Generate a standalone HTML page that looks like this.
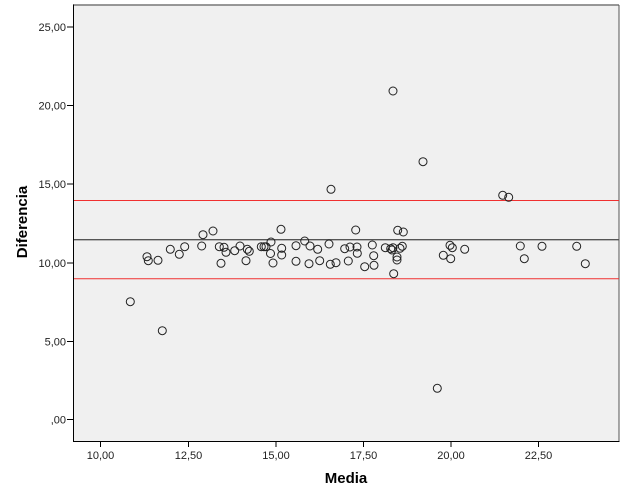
<!DOCTYPE html>
<html><head><meta charset="utf-8"><style>
html,body{margin:0;padding:0;background:#fff;}
svg{display:block;}
text{font-family:"Liberation Sans",Arial,sans-serif;}
</style></head><body>
<svg width="626" height="501" viewBox="0 0 626 501" xmlns="http://www.w3.org/2000/svg">
<defs>
<marker id="m" markerUnits="userSpaceOnUse" markerWidth="10" markerHeight="10" refX="5" refY="5" overflow="visible">
<circle cx="5" cy="5" r="4" fill="none" stroke="#222" stroke-width="1"/>
</marker>
</defs>
<rect x="0" y="0" width="626" height="501" fill="#fff"/>
<rect x="73.5" y="5" width="545.5" height="436" fill="#f0f0f0"/>
<line x1="73" y1="5" x2="619" y2="5" stroke="#777" stroke-width="1.5"/>
<line x1="619" y1="5" x2="619" y2="441" stroke="#555" stroke-width="1"/>
<path d="M73.5 4.5V441.5H619.5" fill="none" stroke="#000" stroke-width="1"/>
<path d="M67 27H73M67 105.5H73M67 184H73M67 263H73M67 341.5H73M67 419.5H73" stroke="#000" stroke-width="1"/>
<path d="M100.5 441V447M188.5 441V447M276 441V447M363.5 441V447M451 441V447M538.5 441V447" stroke="#000" stroke-width="1"/>
<g font-size="11" fill="#222" text-anchor="end">
<text x="66" y="31">25,00</text>
<text x="66" y="109.5">20,00</text>
<text x="66" y="188">15,00</text>
<text x="66" y="267">10,00</text>
<text x="66" y="345.5">5,00</text>
<text x="66" y="423.5">,00</text>
</g>
<g font-size="11" fill="#222" text-anchor="middle">
<text x="100.5" y="459">10,00</text>
<text x="188.5" y="459">12,50</text>
<text x="276" y="459">15,00</text>
<text x="363.5" y="459">17,50</text>
<text x="451" y="459">20,00</text>
<text x="538.5" y="459">22,50</text>
</g>
<text x="346" y="483" font-size="15" font-weight="bold" text-anchor="middle" fill="#000">Media</text>
<text transform="translate(27,222) rotate(-90)" font-size="15" font-weight="bold" text-anchor="middle" fill="#000">Diferencia</text>
<line x1="74" y1="200.5" x2="619" y2="200.5" stroke="#f03030" stroke-width="1"/>
<line x1="74" y1="278.7" x2="619" y2="278.7" stroke="#f03030" stroke-width="1"/>
<line x1="74" y1="239.7" x2="619" y2="239.7" stroke="#555" stroke-width="1.3"/>
<polyline fill="none" stroke="none" marker-start="url(#m)" marker-mid="url(#m)" marker-end="url(#m)" points="130.3,301.7 162.3,330.7 147,256.7 148.3,260.7 158,260.3 170.3,249.3 179.3,254.3 184.7,246.7 201.7,246 203,234.7 213,231 219.3,246.7 221,263.3 224,247.3 226,252.3 234.7,250.7 240,246 246,260.7 247.3,249.3 249.3,251.3 261.3,246.7 264,246.7 266,246.7 271,242 270.5,253.5 273,263 281,229.3 281.7,248.3 281.7,255 296,245.7 296,261.3 304.7,241 310,246 309,263.7 317.7,249.3 319.7,260.7 329,244 330.3,264.3 336,262.7 331,189.3 344.7,248.7 350,247 348.3,261 355.7,230 357,247 357.3,253.3 364.7,266.7 372.3,245 373.7,255.7 374,265.3 385.3,247.7 390.7,248.7 392,250 393,247.7 397,257 397,260 393.7,273.7 397.7,230.3 403.3,232 400,248.3 402.3,246.3 393,91 423,161.7 437.3,388.3 443.3,255.3 450,245.3 452.3,247.7 450.7,258.7 464.7,249.3 502.7,195.3 508.7,197.3 520.3,246 524.3,258.7 542,246.3 576.7,246.3 585.3,263.7"/>
</svg>
</body></html>
